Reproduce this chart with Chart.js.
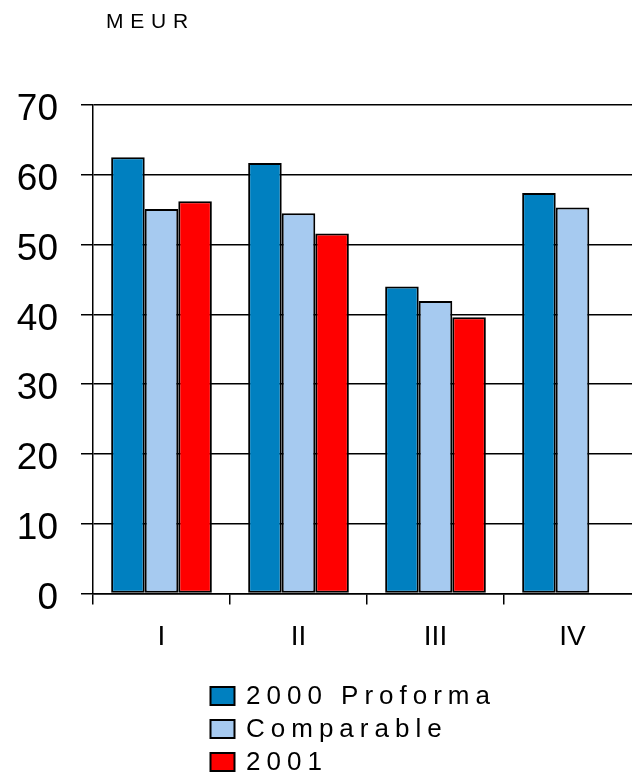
<!DOCTYPE html>
<html>
<head>
<meta charset="utf-8">
<script src="https://cdn.jsdelivr.net/npm/chart.js@4/dist/chart.umd.min.js"></script>
<style>
  html, body { margin: 0; padding: 0; background: #fff; overflow: hidden; }
  #wrap { width: 645px; height: 777px; }
</style>
</head>
<body>
<div id="wrap"><canvas id="c" width="645" height="777"></canvas></div>
<script>
// Quarterly figures, MEUR
const categories = ['I', 'II', 'III', 'IV'];
const proforma2000 = [62.5, 61.7, 44.0, 57.4];
const comparable = [55.1, 54.5, 41.9, 55.3];
const year2001 = [56.2, 51.6, 39.6, null];
const seriesNames = ['2000 Proforma', 'Comparable', '2001'];
const unitLabel = 'MEUR';
const yMin = 0, yMax = 70, yStep = 10;

const FONT = "'Liberation Sans', Arial, sans-serif";
const colors = ['#0080C0', '#A6CAF0', '#FF0000'];

// Unit caption above the value axis
const unitCaption = {
  id: 'unitCaption',
  afterDraw(chart) {
    const ctx = chart.ctx;
    ctx.save();
    ctx.font = '21px ' + FONT;
    ctx.letterSpacing = '6.8px';
    ctx.fillStyle = '#000';
    ctx.textBaseline = 'middle';
    ctx.textAlign = 'left';
    ctx.fillText(unitLabel, 106, 22);
    ctx.restore();
  }
};

// Stacked legend below the category axis
const stackedLegend = {
  id: 'stackedLegend',
  afterDraw(chart) {
    const ctx = chart.ctx;
    ctx.save();
    ctx.font = '26px ' + FONT;
    ctx.letterSpacing = '6px';
    ctx.textBaseline = 'middle';
    ctx.textAlign = 'left';
    chart.data.datasets.forEach((ds, i) => {
      const top = 687 + i * 33;
      ctx.fillStyle = ds.backgroundColor;
      ctx.fillRect(210.5, top, 24, 18);
      ctx.lineWidth = 2;
      ctx.strokeStyle = '#000';
      ctx.strokeRect(210.5, top, 24, 18);
      ctx.fillStyle = '#000';
      ctx.fillText(ds.label, 246, top + 10);
    });
    ctx.restore();
  }
};

const datasets = [proforma2000, comparable, year2001].map((vals, i) => ({
  label: seriesNames[i],
  data: vals,
  backgroundColor: colors[i],
  borderColor: '#000',
  borderWidth: 2,
  borderSkipped: false,
  categoryPercentage: 0.735,
  barPercentage: 1.0
}));

new Chart(document.getElementById('c'), {
  type: 'bar',
  data: { labels: categories, datasets },
  options: {
    responsive: false,
    animation: false,
    devicePixelRatio: 1,
    layout: { padding: { top: 105, left: 0, right: 4, bottom: 124 } },
    plugins: {
      legend: { display: false },
      tooltip: { enabled: false },
      title: { display: false }
    },
    scales: {
      x: {
        afterFit(scale) { scale.height = 59.5; },
        offset: true,
        grid: {
          display: true,
          offset: true,
          drawOnChartArea: false,
          drawTicks: true,
          tickLength: 11,
          color: '#000',
          lineWidth: 1.5
        },
        border: { display: true, color: '#000', width: 1.5 },
        ticks: {
          color: '#000',
          font: { family: FONT, size: 28 },
          padding: 16
        }
      },
      y: {
        afterFit(scale) { scale.width = 93; },
        min: yMin,
        max: yMax,
        ticks: {
          stepSize: yStep,
          color: '#000',
          font: { family: FONT, size: 37 },
          padding: 23,
          labelOffset: 5
        },
        grid: {
          color: '#000',
          lineWidth: 1.5,
          drawTicks: true,
          tickLength: 12
        },
        border: { display: true, color: '#000', width: 1.5 }
      }
    }
  },
  plugins: [unitCaption, stackedLegend]
});
</script>
</body>
</html>
